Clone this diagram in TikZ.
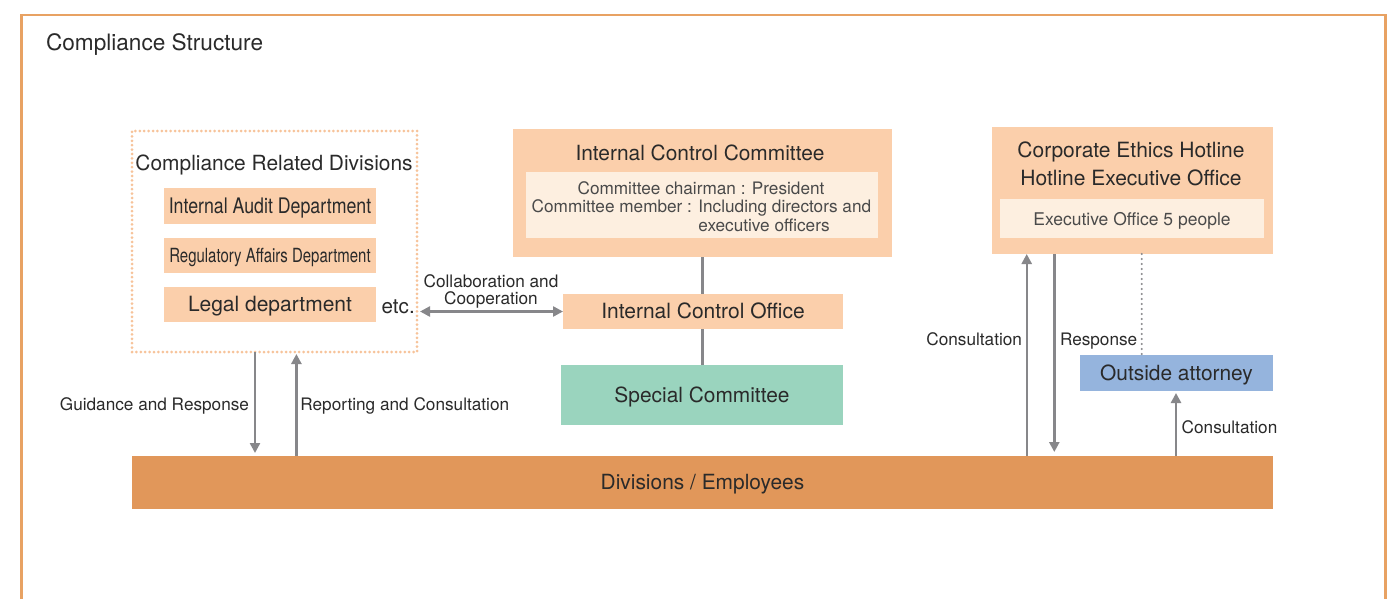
\documentclass[tikz,border=0pt]{standalone}
\usepackage{fontspec}
\setmainfont{TeX Gyre Heros}
\usetikzlibrary{arrows.meta}
\definecolor{frameor}{HTML}{E8A263}
\definecolor{peach}{HTML}{FBCFAB}
\definecolor{cream}{HTML}{FDEFE0}
\definecolor{mint}{HTML}{9AD4BE}
\definecolor{skyb}{HTML}{95B4DD}
\definecolor{barorange}{HTML}{E1975A}
\definecolor{dotor}{HTML}{F7C39A}
\definecolor{arrgray}{HTML}{87878A}
\definecolor{txt}{HTML}{2A2A2A}
\definecolor{txtgray}{HTML}{4A4A4A}
\newcommand\myfs[1]{\fontsize{#1}{#1}\selectfont}
\begin{document}
\begin{tikzpicture}[x=0.5pt,y=-0.5pt,
  every node/.style={inner sep=0pt, outer sep=0pt, text=txt},
  c/.style={text height=0.72em, text depth=0pt},
  lbl/.style={font=\myfs{8.6}, c},
  arr/.style={draw=arrgray, line width=1.2pt, -{Triangle[length=5pt,width=5pt]}},
  arrboth/.style={draw=arrgray, line width=1.2pt, {Triangle[length=5pt,width=5pt]}-{Triangle[length=5pt,width=5pt]}},
  conn/.style={draw=arrgray, line width=1.2pt},
  dotconn/.style={draw=arrgray, line width=1.2pt, dash pattern=on 0pt off 2.5pt, line cap=round}]
\useasboundingbox (0,0) rectangle (1400,599);
\fill[white] (0,0) rectangle (1400,599);
\draw[frameor, line width=1.25pt] (21.5,599) -- (21.5,15) -- (1385.5,15) -- (1385.5,599);

\node[anchor=west, font=\myfs{11.3}, c] (title) at (46,43) {Compliance Structure};

% Compliance related divisions
\node[draw=dotor, line width=1.5pt, dash pattern=on 0pt off 2.2pt, line cap=round,
      minimum width=142.5pt, minimum height=110.5pt] (crd) at (274.5,241.5) {};
\node[font=\myfs{10.45}, c] (crdt) at (274,163) {Compliance Related Divisions};
\node[fill=peach, minimum width=106pt, minimum height=18pt, font=\myfs{10.7}, c] (iad) at (270,206)
  {\scalebox{0.83}[1]{Internal Audit Department}};
\node[fill=peach, minimum width=106pt, minimum height=17.5pt, font=\myfs{9.75}, c] (rad) at (270,255.5)
  {\scalebox{0.767}[1]{Regulatory Affairs Department}};
\node[fill=peach, minimum width=106pt, minimum height=17.5pt, font=\myfs{10.5}, c] (legal) at (270,304.5)
  {Legal department};
\node[anchor=west, font=\myfs{10.3}, c] (etc) at (381.7,306) {etc.};

% Internal control committee
\node[fill=peach, minimum width=189.5pt, minimum height=64pt] (icc) at (702.5,193) {};
\node[font=\myfs{10.45}, c] (icct) at (700,153.5) {Internal Control Committee};
\node[fill=cream, minimum width=176pt, minimum height=33pt] (icci) at (702,205) {};
\node[font=\myfs{8.6}, text=txtgray, c] (icc1) at (701,187.7) {Committee chairman : President};
\node[font=\fontsize{8.6}{9.3}\selectfont, text=txtgray, align=left, anchor=west] (icc2) at (531.7,215.5)
  {Committee member : Including directors and\\\hphantom{Committee member : }executive officers};

\node[fill=peach, minimum width=140pt, minimum height=17.5pt, font=\myfs{10.5}, c] (ico) at (703,311.5)
  {Internal Control Office};
\node[fill=mint, minimum width=141pt, minimum height=30pt, font=\myfs{10.45}, c] (sc) at (702,395)
  {Special Committee};

% Ethics hotline
\node[fill=peach, minimum width=140.5pt, minimum height=63.5pt] (ech) at (1132.5,190.5) {};
\node[font=\fontsize{10.5}{14}\selectfont, align=center] (echt) at (1131,164)
  {Corporate Ethics Hotline\\Hotline Executive Office};
\node[fill=cream, minimum width=132pt, minimum height=19.5pt, font=\myfs{8.75}, text=txtgray, c] (echi) at (1132,218.5)
  {Executive Office 5 people};
\node[fill=skyb, minimum width=96.5pt, minimum height=18pt, font=\myfs{10.45}, c] (oa) at (1176.5,373)
  {Outside attorney};

% Bar
\node[fill=barorange, minimum width=570.5pt, minimum height=26.5pt, font=\myfs{10.45}, c] (bar) at (702.5,482.5)
  {Divisions / Employees};

% connector x positions
\coordinate (xg) at (255,0);
\coordinate (xr) at (296.4,0);
\coordinate (xc) at (1026.7,0);
\coordinate (xresp) at (1054.3,0);
\coordinate (xd) at (1141.7,0);
\coordinate (xo) at (1176,0);

\draw[arr, shorten >=1.5pt] (crd.south -| xg) -- (bar.north -| xg);
\draw[arr, shorten >=1pt] (bar.north -| xr) -- (crd.south -| xr);
\draw[arr] (bar.north -| xc) -- (ech.south -| xc);
\draw[arr, shorten >=2pt] (ech.south -| xresp) -- (bar.north -| xresp);
\draw[arr, shorten >=1pt] (bar.north -| xo) -- (oa.south -| xo);
\draw[dotconn] (ech.south -| xd) -- (oa.north -| xd);
\draw[conn] (icc.south) -- (icc.south |- ico.north);
\draw[conn] (icc.south |- ico.south) -- (icc.south |- sc.north);
\draw[arrboth, shorten <=1.5pt] (crd.east |- ico.west) -- (ico.west);

% labels
\node[lbl, anchor=east] (lg) at (249,403) {Guidance and Response};
\node[lbl, anchor=west] (lr) at (300.4,403) {Reporting and Consultation};
\node[lbl, anchor=east] (lc1) at (1022,338.3) {Consultation};
\node[lbl, anchor=west] (lresp) at (1060,338.3) {Response};
\node[lbl, anchor=west] (lc2) at (1181.7,426.7) {Consultation};
\node[font=\fontsize{8.6}{8.8}\selectfont, align=center] (lcol) at (491,291.5) {Collaboration and\\Cooperation};
\end{tikzpicture}
\end{document}
